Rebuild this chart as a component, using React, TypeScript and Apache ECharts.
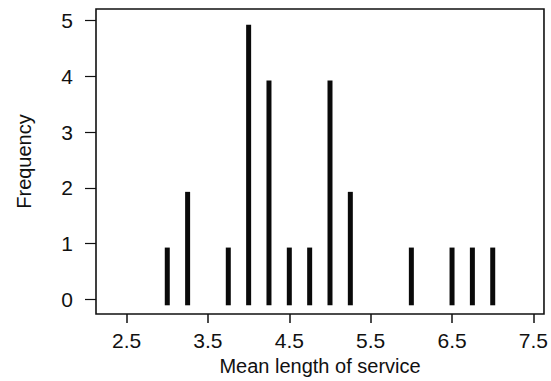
import React, { useEffect, useRef } from "react";
import * as echarts from "echarts";

const serviceLengths = [3, 3.25, 3.75, 4, 4.25, 4.5, 4.75, 5, 5.25, 6, 6.5, 6.75, 7];
const frequencies = [1, 2, 1, 5, 4, 1, 1, 4, 2, 1, 1, 1, 1];
const xTicks = [2.5, 3.5, 4.5, 5.5, 6.5, 7.5];
const yTicks = [0, 1, 2, 3, 4, 5];

const FONT = "'Liberation Sans', Arial, sans-serif";

export default function App() {
  const ref = useRef<HTMLDivElement>(null);
  useEffect(() => {
    if (!ref.current) return;
    const chart = echarts.init(ref.current, null, { renderer: "svg" });
    const data = serviceLengths.map((x, i) => [x, frequencies[i]]);
    chart.setOption({
      animation: false,
      backgroundColor: "#ffffff",
      textStyle: { fontFamily: FONT },
      grid: {
        left: 96,
        right: 5,
        top: 9,
        bottom: 67,
        show: true,
        borderColor: "#111",
        borderWidth: 1.6,
        backgroundColor: "transparent",
      },
      xAxis: {
        type: "value",
        min: 2.124,
        max: 7.63,
        name: "Mean length of service",
        nameLocation: "middle",
        nameGap: 42,
        nameTextStyle: { fontFamily: FONT, fontSize: 20, color: "#111" },
        axisLine: { show: false, onZero: false },
        splitLine: { show: false },
        axisTick: {
          show: true,
          inside: false,
          length: 9,
          lineStyle: { color: "#111", width: 1.5 },
          customValues: xTicks,
        },
        axisLabel: {
          show: true,
          margin: 16,
          fontFamily: FONT,
          fontSize: 21,
          color: "#111",
          customValues: xTicks,
          formatter: (v: number) => v.toFixed(1),
        },
      },
      yAxis: {
        type: "value",
        min: -0.264,
        max: 5.21,
        name: "Frequency",
        nameLocation: "middle",
        nameGap: 62,
        nameRotate: 90,
        nameTextStyle: { fontFamily: FONT, fontSize: 20, color: "#111" },
        axisLine: { show: false, onZero: false },
        splitLine: { show: false },
        axisTick: {
          show: true,
          inside: false,
          length: 11,
          lineStyle: { color: "#111", width: 1.2 },
          customValues: yTicks,
        },
        axisLabel: {
          show: true,
          margin: 23,
          fontFamily: FONT,
          fontSize: 21,
          color: "#111",
          customValues: yTicks,
          formatter: (v: number) => String(Math.round(v)),
        },
      },
      series: [
        {
          type: "custom",
          data,
          renderItem: (params: any, api: any) => {
            const x = api.value(0);
            const y = api.value(1);
            const top = api.coord([x, y]);
            const base = api.coord([x, 0]);
            const w = 5;
            return {
              type: "rect",
              shape: {
                x: top[0] - w / 2,
                y: top[1] + 4,
                width: w,
                height: base[1] + 6 - (top[1] + 4),
              },
              style: { fill: "#0a0a0a" },
            };
          },
        },
      ],
    });
    return () => chart.dispose();
  }, []);
  return (
    <div
      ref={ref}
      style={{ position: "fixed", left: 0, top: 0, width: 551, height: 381 }}
    />
  );
}
